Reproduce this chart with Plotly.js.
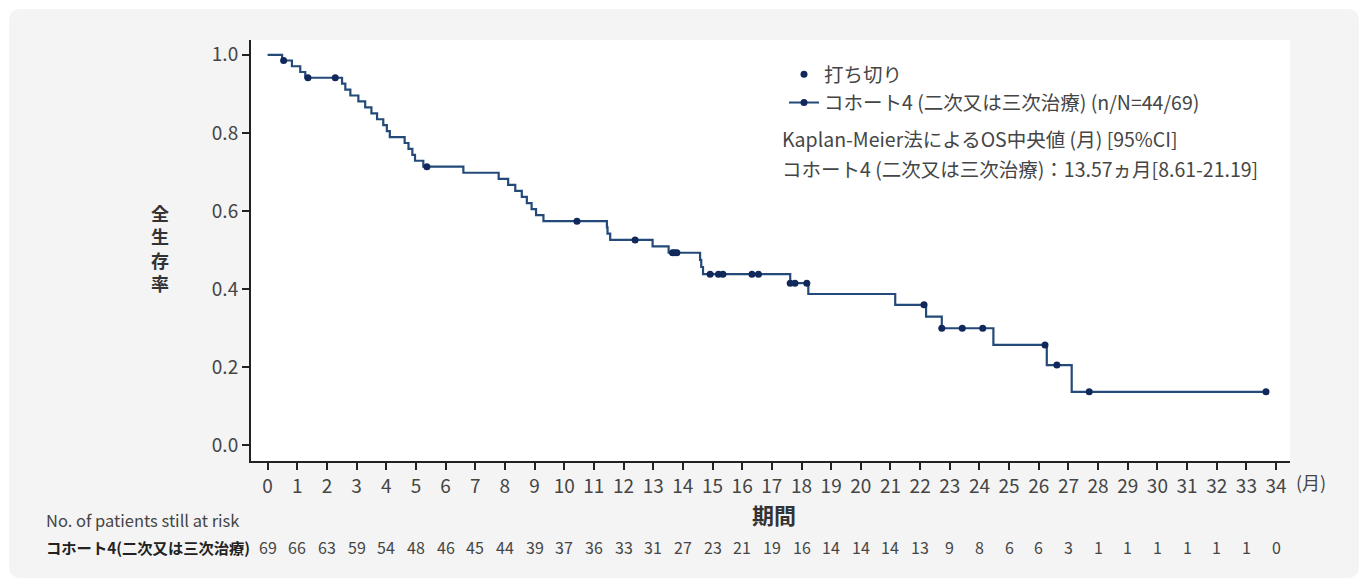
<!DOCTYPE html>
<html>
<head>
<meta charset="utf-8">
<script src="https://cdn.plot.ly/plotly-3.0.1.min.js"></script>
<style>
  html, body { margin:0; padding:0; background:#ffffff; }
  #card { position:absolute; left:9px; top:9px; width:1350px; height:569px; background:#f4f4f4; border-radius:10px; }
  #chart { position:absolute; left:0; top:0; width:1371px; height:586px; }
</style>
</head>
<body>
<div id="card"></div>
<div id="chart"></div>
<script>
// Kaplan-Meier step points (month, survival)
const kmTime = [0, 0.49, 0.82, 1.10, 1.27, 2.51, 2.62, 2.79, 3.06, 3.29, 3.50, 3.69, 3.90, 4.02, 4.12,
  4.62, 4.75, 4.88, 4.97, 5.25, 6.60, 7.79, 8.11, 8.35, 8.57, 8.74, 8.90, 9.05, 9.30,
  11.44, 11.46, 11.55, 12.98, 13.52, 14.58, 14.62, 14.68, 17.62, 18.23, 21.16, 22.20, 22.73,
  24.47, 26.27, 27.11, 33.66];
const kmSurv = [1.0, 0.9855, 0.9708, 0.9561, 0.9414, 0.9262, 0.9110, 0.8959, 0.8807, 0.8655, 0.8503, 0.8351, 0.8199, 0.8047, 0.7895,
  0.7743, 0.7592, 0.7440, 0.7288, 0.7136, 0.6981, 0.6826, 0.6671, 0.6516, 0.6361, 0.6205, 0.6050, 0.5895, 0.5740,
  0.5580, 0.5421, 0.5261, 0.5097, 0.4932, 0.4749, 0.4567, 0.4384, 0.4153, 0.3876, 0.3599, 0.3299, 0.2999,
  0.2571, 0.2057, 0.1371, 0.1371];
// Censored observations
const censorTime = [0.54, 1.36, 2.28, 5.37, 10.43, 12.39, 13.65, 13.72, 13.80, 14.92, 15.20, 15.35,
  16.33, 16.55, 17.62, 17.78, 18.18, 22.13, 22.73, 23.42, 24.11, 26.21, 26.61, 27.70, 33.66];
const censorSurv = [0.9855, 0.9414, 0.9414, 0.7136, 0.5740, 0.5261, 0.4932, 0.4932, 0.4932, 0.4384, 0.4384, 0.4384,
  0.4384, 0.4384, 0.4153, 0.4153, 0.4153, 0.3599, 0.2999, 0.2999, 0.2999, 0.2571, 0.2057, 0.1371, 0.1371];
// Number at risk at each month
const riskMonths = [0,1,2,3,4,5,6,7,8,9,10,11,12,13,14,15,16,17,18,19,20,21,22,23,24,25,26,27,28,29,30,31,32,33,34];
const atRisk = [69,66,63,59,54,48,46,45,44,39,37,36,33,31,27,23,21,19,16,14,14,14,13,9,8,6,6,3,1,1,1,1,1,1,0];
const yTicks = [0, 0.2, 0.4, 0.6, 0.8, 1.0];
const yTickText = ['0.0','0.2','0.4','0.6','0.8','1.0'];

const cohortName = 'コホート4 (二次又は三次治療)';
const cohortShort = 'コホート4(二次又は三次治療)';
const FONT = '"Noto Sans CJK JP", "Noto Sans", sans-serif';
const lineColor = '#234a78';
const dotColor = '#10295a';
const textColor = '#454545';

const censorTrace = { x: censorTime, y: censorSurv, type: 'scatter', mode: 'markers', name: '打ち切り',
  marker: { color: dotColor, size: 7 }, cliponaxis: false };
const legendTrace = { x: [null], y: [null], type: 'scatter', mode: 'lines+markers', name: cohortName + ' (n/N=44/69)',
  line: { color: lineColor, width: 2 }, marker: { color: dotColor, size: 7 } };
const kmTrace = { x: kmTime, y: kmSurv, type: 'scatter', mode: 'lines', line: { color: lineColor, width: 2.2, shape: 'hv' },
  showlegend: false };
const data = [kmTrace, censorTrace, legendTrace];

const toPaperY = px => (461 - px) / 421;
const toPaperX = px => (px - 251) / 1039;

const annotations = [
  { text: '<b>全<br>生<br>存<br>率</b>', xref: 'paper', yref: 'paper', x: toPaperX(160), y: toPaperY(248), showarrow: false,
    font: { family: FONT, size: 18, color: '#333' }, xanchor: 'center', yanchor: 'middle' },
  { text: '(月)', xref: 'paper', yref: 'paper', x: toPaperX(1311), y: toPaperY(482), showarrow: false,
    font: { family: FONT, size: 18, color: textColor }, xanchor: 'center', yanchor: 'middle' },
  { text: '<b>期間</b>', xref: 'paper', yref: 'paper', x: toPaperX(774), y: toPaperY(514), showarrow: false,
    font: { family: FONT, size: 22, color: '#333' }, xanchor: 'center', yanchor: 'middle' },
  { text: 'No. of patients still at risk', xref: 'paper', yref: 'paper', x: toPaperX(44), y: toPaperY(520), showarrow: false,
    font: { family: FONT, size: 16.5, color: textColor }, xanchor: 'left', yanchor: 'middle' },
  { text: '<b>' + cohortShort + '</b>', xref: 'paper', yref: 'paper', x: toPaperX(44), y: toPaperY(547), showarrow: false,
    font: { family: FONT, size: 15.3, color: '#222' }, xanchor: 'left', yanchor: 'middle' },
  { text: 'Kaplan-Meier法によるOS中央値 (月) [95%CI]', xref: 'paper', yref: 'paper', x: toPaperX(780), y: toPaperY(138), showarrow: false,
    font: { family: FONT, size: 19.5, color: textColor }, xanchor: 'left', yanchor: 'middle' },
  { text: cohortName + '：13.57ヵ月[8.61-21.19]', xref: 'paper', yref: 'paper', x: toPaperX(780), y: toPaperY(168), showarrow: false,
    font: { family: FONT, size: 19.5, color: textColor }, xanchor: 'left', yanchor: 'middle' }
];
riskMonths.forEach((m, i) => {
  annotations.push({ text: String(atRisk[i]), xref: 'x', yref: 'paper', x: m, y: toPaperY(547), showarrow: false,
    font: { family: FONT, size: 16, color: textColor }, xanchor: 'center', yanchor: 'middle' });
});

const layout = {
  width: 1371, height: 586,
  margin: { l: 251, r: 81, t: 40, b: 125 },
  paper_bgcolor: 'rgba(0,0,0,0)',
  plot_bgcolor: '#ffffff',
  font: { family: FONT, color: textColor },
  showlegend: true,
  legend: { x: toPaperX(784), y: toPaperY(55), xanchor: 'left', yanchor: 'top', bgcolor: 'rgba(0,0,0,0)',
    font: { family: FONT, size: 19.5, color: textColor }, tracegroupgap: 0, itemwidth: 30 },
  xaxis: {
    range: [-0.56, 34.47], tickmode: 'array', tickvals: riskMonths, ticktext: riskMonths.map(String),
    showline: true, linecolor: '#222', linewidth: 2, ticks: 'outside', ticklen: 7, tickwidth: 2, tickcolor: '#222',
    showgrid: false, zeroline: false, tickfont: { family: FONT, size: 19, color: textColor }
  },
  yaxis: {
    range: [-0.04, 1.038], tickmode: 'array', tickvals: yTicks, ticktext: yTickText,
    showline: true, linecolor: '#222', linewidth: 2, ticks: 'outside', ticklen: 7, tickwidth: 2, tickcolor: '#222',
    showgrid: false, zeroline: false, tickfont: { family: FONT, size: 19, color: textColor }
  },
  annotations: annotations
};

Plotly.newPlot('chart', data, layout, { displayModeBar: false, staticPlot: true });
</script>
</body>
</html>
